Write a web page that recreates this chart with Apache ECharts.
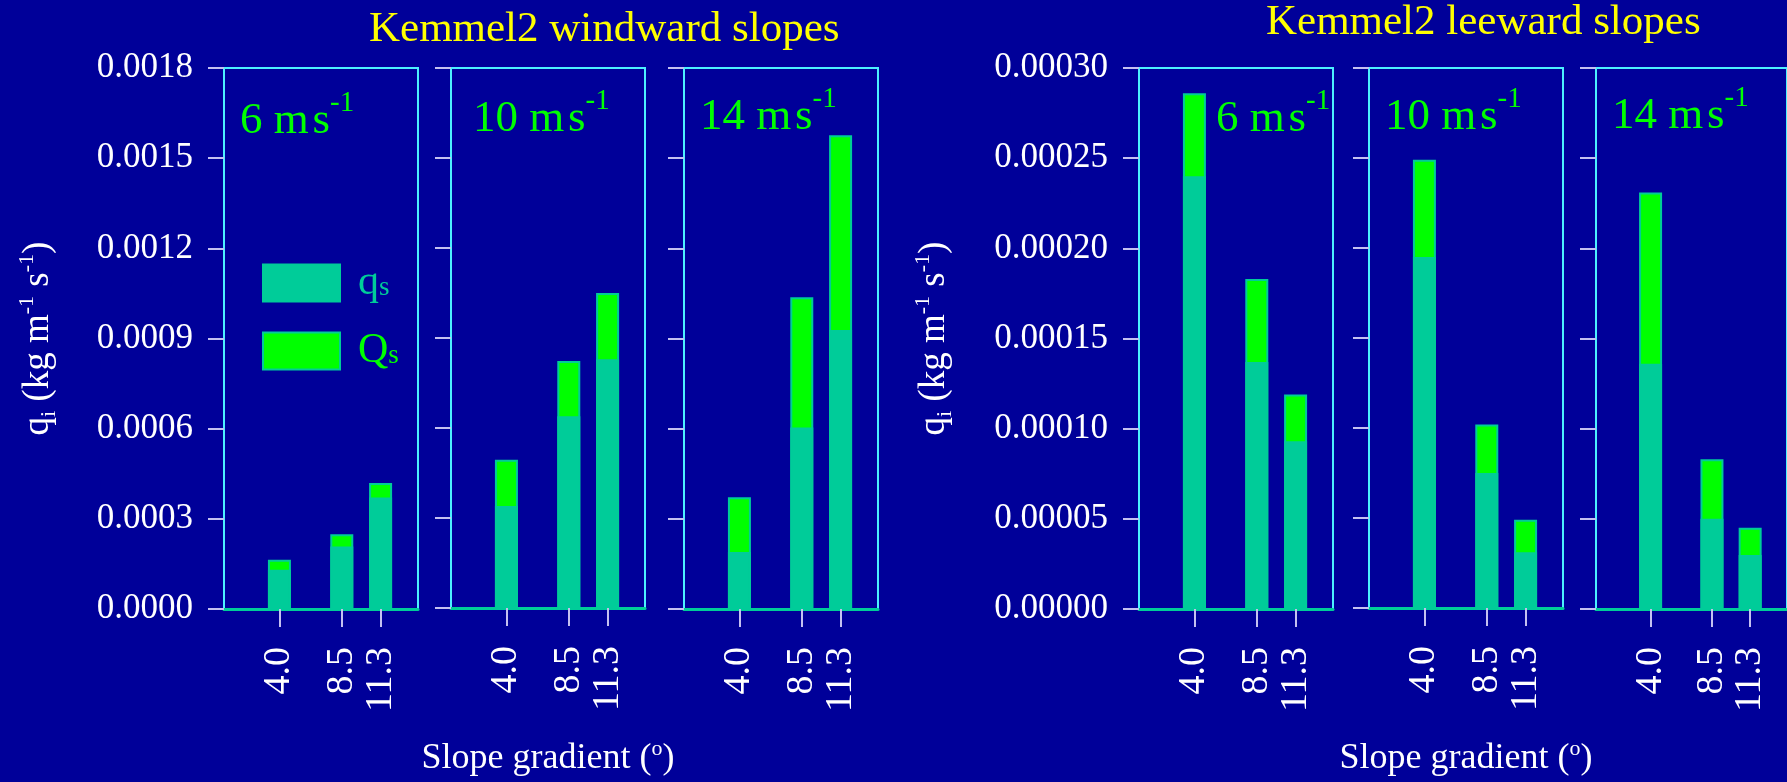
<!DOCTYPE html>
<html><head><meta charset="utf-8">
<script src="https://cdn.jsdelivr.net/npm/echarts@6/dist/echarts.min.js"></script>
<style>html,body{margin:0;padding:0;background:#000099;overflow:hidden}#c{width:1787px;height:782px}</style>
</head><body><div id="c"></div>
<script>
// ---------- data ----------
const slopes = [4.0, 8.5, 11.3];            // slope gradient (degrees), x positions
const speeds = ['6', '10', '14'];           // wind speed panels (m s-1)
// windward slopes: qs (teal part) and Qs (full bar height, green)
const windward_qs_6  = [0.000131, 0.000208, 0.000371];
const windward_Qs_6  = [0.000164, 0.000249, 0.000419];
const windward_qs_10 = [0.000340, 0.000639, 0.000829];
const windward_Qs_10 = [0.000494, 0.000823, 0.001050];
const windward_qs_14 = [0.000190, 0.000604, 0.000928];
const windward_Qs_14 = [0.000372, 0.001037, 0.001576];
// leeward slopes
const leeward_qs_6  = [0.000240, 0.000137, 0.000093];
const leeward_Qs_6  = [0.000286, 0.000183, 0.000119];
const leeward_qs_10 = [0.000195, 0.000075, 0.000031];
const leeward_Qs_10 = [0.000249, 0.000102, 0.000049];
const leeward_qs_14 = [0.000136, 0.000050, 0.000030];
const leeward_Qs_14 = [0.000231, 0.000083, 0.000045];
// y tick labels
const windwardTicks = [0, 0.0003, 0.0006, 0.0009, 0.0012, 0.0015, 0.0018];
const leewardTicks  = [0, 0.00005, 0.00010, 0.00015, 0.00020, 0.00025, 0.00030];
const titles = ['Kemmel2 windward slopes', 'Kemmel2 leeward slopes'];

// ---------- style ----------
const FONT = "'Liberation Serif','Times New Roman',serif";
const BG = '#000099', TEAL = '#00cc99', GREEN = '#00ff00', CYAN = '#4cf0ff', LAV = '#c4c0f0';
const gridLefts = [224, 451, 684, 1139, 1369, 1596];
const GW = 194, GT = 68, GH = 541;
const panels = [
  {qs: windward_qs_6,  Qs: windward_Qs_6,  ticks: windwardTicks, dec: 4},
  {qs: windward_qs_10, Qs: windward_Qs_10, ticks: windwardTicks, dec: 4},
  {qs: windward_qs_14, Qs: windward_Qs_14, ticks: windwardTicks, dec: 4},
  {qs: leeward_qs_6,   Qs: leeward_Qs_6,   ticks: leewardTicks,  dec: 5},
  {qs: leeward_qs_10,  Qs: leeward_Qs_10,  ticks: leewardTicks,  dec: 5},
  {qs: leeward_qs_14,  Qs: leeward_Qs_14,  ticks: leewardTicks,  dec: 5}
];
const speedPos = [[240, 89], [473, 87], [700, 85], [1216, 87], [1385, 85], [1612, 84]];
const yNameGap = [164, 183];

const grids = [], xAxes = [], yAxes = [], series = [];
panels.forEach((p, i) => {
  grids.push({left: gridLefts[i], top: GT, width: GW, height: GH, show: true,
    borderColor: CYAN, borderWidth: 2, backgroundColor: 'transparent'});
  xAxes.push({
    gridIndex: i, type: 'value', min: 0, max: 14,
    axisLine: {show: true, onZero: false, lineStyle: {color: TEAL, width: 3}},
    axisTick: {show: true, customValues: slopes, length: 18, lineStyle: {color: LAV, width: 2}},
    axisLabel: {show: true, customValues: slopes, rotate: 90, margin: 38, color: '#fff',
      fontFamily: FONT, fontSize: 38, formatter: v => Number(v).toFixed(1)},
    splitLine: {show: false},
    name: i % 3 === 1 ? '{t|Slope gradient (}{s|o}{t|)}' : '',
    nameLocation: 'middle', nameGap: 130,
    nameTextStyle: {color: '#fff', fontFamily: FONT, fontSize: 36,
      rich: {t: {color: '#fff', fontFamily: FONT, fontSize: 36, lineHeight: 42},
             s: {color: '#fff', fontFamily: FONT, fontSize: 22, lineHeight: 22, verticalAlign: 'top'}}}
  });
  const t = p.ticks;
  yAxes.push({
    gridIndex: i, type: 'value', min: t[0], max: t[t.length - 1], interval: t[1] - t[0],
    axisLine: {show: false},
    axisTick: {show: true, length: 16, lineStyle: {color: LAV, width: 2}},
    axisLabel: {show: i % 3 === 0, margin: 31, color: '#fff', fontFamily: FONT, fontSize: 35,
      formatter: v => Number(v).toFixed(p.dec)},
    splitLine: {show: false},
    name: i % 3 === 0 ? '{t|q}{i|i}{t| (kg m}{p|-1}{t| s}{p|-1}{t|)}' : '',
    nameLocation: 'middle', nameRotate: 90, nameGap: yNameGap[Math.floor(i / 3)],
    nameTextStyle: {color: '#fff', fontFamily: FONT, fontSize: 37,
      rich: {t: {color: '#fff', fontFamily: FONT, fontSize: 37, lineHeight: 44},
             i: {color: '#fff', fontFamily: FONT, fontSize: 22, lineHeight: 22, verticalAlign: 'bottom'},
             p: {color: '#fff', fontFamily: FONT, fontSize: 22, lineHeight: 22, verticalAlign: 'top'}}}
  });
  series.push({
    type: 'bar', name: 'Qs', xAxisIndex: i, yAxisIndex: i, barWidth: 23, barGap: '-100%',
    data: slopes.map((x, j) => [x, p.Qs[j]]),
    itemStyle: {color: GREEN, borderColor: TEAL, borderWidth: 2}, silent: true
  });
  series.push({
    type: 'bar', name: 'qs', xAxisIndex: i, yAxisIndex: i, barWidth: 23, barGap: '-100%',
    data: slopes.map((x, j) => [x, p.qs[j]]),
    itemStyle: {color: TEAL, borderColor: TEAL, borderWidth: 2}, silent: true
  });
});

const graphic = speedPos.map((pos, i) => ({
  type: 'text', x: pos[0], y: pos[1], silent: true,
  style: {
    text: '{m|' + speeds[i % 3] + ' m\u200As}{s|-1}', fill: GREEN, align: 'left', verticalAlign: 'top',
    font: '45px ' + FONT,
    rich: {m: {fontSize: 45, fontFamily: FONT, fill: GREEN, lineHeight: 64},
           s: {fontSize: 29, fontFamily: FONT, fill: GREEN, lineHeight: 28, verticalAlign: 'top'}}
  }
}));

const chart = echarts.init(document.getElementById('c'));
chart.setOption({
  backgroundColor: BG,
  animation: false,
  title: [
    {text: titles[0], left: 369, top: 8, padding: 0,
      textStyle: {color: '#ffff00', fontFamily: FONT, fontSize: 43, fontWeight: 'normal'}},
    {text: titles[1], left: 1266, top: 1, padding: 0,
      textStyle: {color: '#ffff00', fontFamily: FONT, fontSize: 43, fontWeight: 'normal'}}
  ],
  legend: {
    data: ['qs', 'Qs'], orient: 'vertical', left: 262, top: 262, padding: 0,
    itemWidth: 77, itemHeight: 37, itemGap: 26, selectedMode: false, icon: 'rect',
    formatter: n => n === 'qs' ? '{a|q}{b|s}' : '{c|Q}{d|s}',
    textStyle: {fontFamily: FONT, fontSize: 42,
      rich: {a: {color: TEAL, fontFamily: FONT, fontSize: 42, lineHeight: 37, padding: [0, 0, 0, 13]},
             b: {color: TEAL, fontFamily: FONT, fontSize: 27, lineHeight: 20, verticalAlign: 'bottom'},
             c: {color: GREEN, fontFamily: FONT, fontSize: 42, lineHeight: 37, padding: [0, 0, 0, 13]},
             d: {color: GREEN, fontFamily: FONT, fontSize: 27, lineHeight: 20, verticalAlign: 'bottom'}}}
  },
  grid: grids, xAxis: xAxes, yAxis: yAxes, series: series, graphic: graphic
});
</script></body></html>
